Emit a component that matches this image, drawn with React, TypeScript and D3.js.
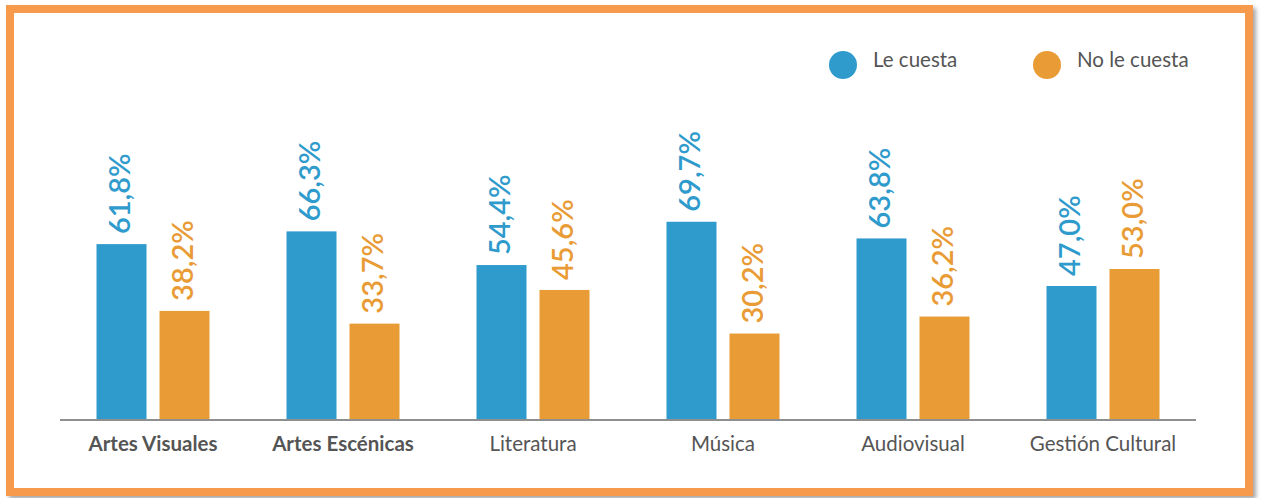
import React from 'react'
import * as d3 from 'd3'

const categories = ['Artes Visuales', 'Artes Escénicas', 'Literatura', 'Música', 'Audiovisual', 'Gestión Cultural']
const leCuesta = [61.8, 66.3, 54.4, 69.7, 63.8, 47.0]
const noLeCuesta = [38.2, 33.7, 45.6, 30.2, 36.2, 53.0]
const boldCats = ['Artes Visuales', 'Artes Escénicas']

const W = 1267
const H = 498
const BLUE = '#2f9bcc'
const ORANGE = '#e99b35'
const FRAME = '#f79a4b'
const FONT = 'Lato, "Open Sans", sans-serif'

function App() {
  const x = d3.scaleBand().domain(categories).range([58, 1198])
  const y = d3.scaleLinear().domain([0, 100]).range([419, 136])
  const barW = 50
  const offset = 31.5

  const fmt = (v: number) => v.toFixed(1).replace('.', ',') + '%'

  const series = [
    { name: 'Le cuesta', values: leCuesta, color: BLUE, dx: -offset },
    { name: 'No le cuesta', values: noLeCuesta, color: ORANGE, dx: offset },
  ]

  return (
    <svg width={W} height={H} style={{ position: 'absolute', left: 0, top: 0 }}>
      <defs>
        <filter id="sh" x="-5%" y="-5%" width="110%" height="110%">
          <feDropShadow dx="3" dy="3" stdDeviation="2" floodColor="#000" floodOpacity="0.35" />
        </filter>
      </defs>
      <rect x={0} y={0} width={W} height={H} fill="#fff" />
      <rect x={10} y={9} width={1239} height={483} fill="#fff" stroke={FRAME} strokeWidth={8} filter="url(#sh)" />

      {/* legend */}
      {series.map((s, i) => (
        <g key={s.name} transform={`translate(${843 + i * 204},65)`}>
          <circle r={14} fill={s.color} />
          <text x={30} y={-3} fontSize={20.5} fill="#555" fontFamily={FONT} dominantBaseline="middle">{s.name}</text>
        </g>
      ))}

      {/* bars */}
      {series.map(s => (
        <g key={s.name}>
          {categories.map((c, i) => {
            const cx = (x(c) as number) + x.bandwidth() / 2 + s.dx
            const top = y(s.values[i])
            return (
              <g key={c}>
                <rect x={cx - barW / 2} y={top} width={barW} height={y(0) - top} fill={s.color} />
                <text
                  transform={`translate(${cx + 1.5},${top - 10}) rotate(-90)`}
                  fontSize={29}
                  fontWeight={600}
                  fill={s.color}
                  fontFamily={FONT}
                  dominantBaseline="middle"
                >
                  {fmt(s.values[i])}
                </text>
              </g>
            )
          })}
        </g>
      ))}

      {/* axis */}
      <line x1={60} x2={1196} y1={y(0) + 1} y2={y(0) + 1} stroke="#8f8f8f" strokeWidth={2} />
      {categories.map(c => (
        <text
          key={c}
          x={(x(c) as number) + x.bandwidth() / 2}
          y={451}
          textAnchor="middle"
          fontSize={20.5}
          fontWeight={boldCats.includes(c) ? 700 : 400}
          fill="#555"
          fontFamily={FONT}
        >
          {c}
        </text>
      ))}
    </svg>
  )
}

export default App
